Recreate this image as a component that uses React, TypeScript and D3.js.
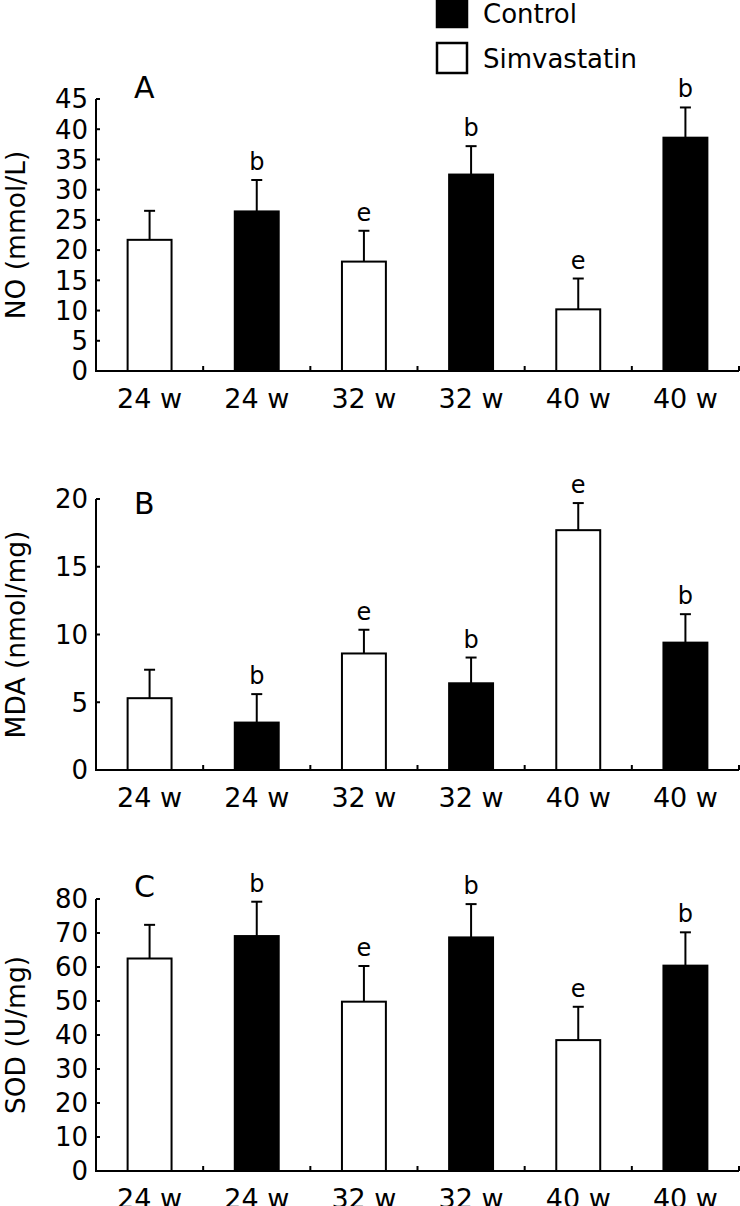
import React from "react";
import * as d3 from "d3";

const categories = ["24 w", "24 w", "32 w", "32 w", "40 w", "40 w"];
const groups = ["Simvastatin", "Control", "Simvastatin", "Control", "Simvastatin", "Control"];
const legendItems = ["Control", "Simvastatin"];

const noValues = [21.7, 26.4, 18.1, 32.5, 10.2, 38.6];
const noErrors = [4.8, 5.2, 5.1, 4.7, 5.1, 5.0];
const noLetters = ["", "b", "e", "b", "e", "b"];
const noTicks = [0, 5, 10, 15, 20, 25, 30, 35, 40, 45];

const mdaValues = [5.3, 3.5, 8.6, 6.4, 17.7, 9.4];
const mdaErrors = [2.1, 2.1, 1.75, 1.9, 2.0, 2.1];
const mdaLetters = ["", "b", "e", "b", "e", "b"];
const mdaTicks = [0, 5, 10, 15, 20];

const sodValues = [62.5, 69.1, 49.8, 68.7, 38.5, 60.4];
const sodErrors = [9.9, 10.1, 10.5, 9.8, 9.8, 9.8];
const sodLetters = ["", "b", "e", "b", "e", "b"];
const sodTicks = [0, 10, 20, 30, 40, 50, 60, 70, 80];

const FONT = "'DejaVu Sans', sans-serif";
const X0 = 96;
const X1 = 739;

type PanelProps = {
  label: string;
  labelY: number;
  title: string;
  values: number[];
  errors: number[];
  letters: string[];
  ticks: number[];
  max: number;
  top: number;
  bottom: number;
};

function Panel({ label, labelY, title, values, errors, letters, ticks, max, top, bottom }: PanelProps) {
  const x = d3
    .scaleBand<number>()
    .domain(d3.range(categories.length))
    .range([X0, X1])
    .paddingInner(0.59)
    .paddingOuter(0.295);
  const y = d3.scaleLinear().domain([0, max]).range([bottom, top]);
  const step = x.step();
  const bw = x.bandwidth();
  const capHalf = 5.5;
  return (
    <g>
      {/* bars */}
      {values.map((v, i) => {
        const bx = x(i)!;
        const isControl = groups[i] === "Control";
        return (
          <rect
            key={"bar" + i}
            x={bx}
            y={y(v)}
            width={bw}
            height={y(0) - y(v)}
            fill={isControl ? "#000" : "#fff"}
            stroke="#000"
            strokeWidth={2}
          />
        );
      })}
      {/* error bars */}
      {values.map((v, i) => {
        const cx = x(i)! + bw / 2;
        const yt = y(v + errors[i]);
        return (
          <g key={"err" + i} stroke="#000" strokeWidth={2}>
            <line x1={cx} x2={cx} y1={y(v)} y2={yt} />
            <line x1={cx - capHalf} x2={cx + capHalf} y1={yt} y2={yt} />
          </g>
        );
      })}
      {/* significance letters */}
      {values.map((v, i) =>
        letters[i] ? (
          <text
            key={"let" + i}
            x={x(i)! + bw / 2}
            y={y(v + errors[i]) - 10}
            textAnchor="middle"
            fontFamily={FONT}
            fontSize={24}
            fill="#000"
          >
            {letters[i]}
          </text>
        ) : null
      )}
      {/* y axis */}
      <line x1={X0} x2={X0} y1={y(max)} y2={y(0)} stroke="#000" strokeWidth={2} />
      {ticks.map((t) => (
        <g key={"yt" + t}>
          <line x1={X0} x2={X0 + 4} y1={y(t)} y2={y(t)} stroke="#000" strokeWidth={2} />
          <text
            x={X0 - 8}
            y={y(t)}
            dy="0.36em"
            textAnchor="end"
            fontFamily={FONT}
            fontSize={26}
            fill="#000"
          >
            {t}
          </text>
        </g>
      ))}
      {/* x axis */}
      <line x1={X0 - 1} x2={X1} y1={y(0)} y2={y(0)} stroke="#000" strokeWidth={2} />
      {categories.map((c, i) => (
        <g key={"xt" + i}>
          <line
            x1={X0 + step * (i + 1)}
            x2={X0 + step * (i + 1)}
            y1={y(0)}
            y2={y(0) - 5}
            stroke="#000"
            strokeWidth={2}
          />
          <text
            x={x(i)! + bw / 2}
            y={y(0) + 37}
            textAnchor="middle"
            fontFamily={FONT}
            fontSize={27}
            fill="#000"
          >
            {c}
          </text>
        </g>
      ))}
      {/* y title */}
      <text
        transform={`translate(16,${(y(0) + y(max)) / 2}) rotate(-90)`}
        textAnchor="middle"
        dy="0.35em"
        fontFamily={FONT}
        fontSize={26.5}
        fill="#000"
      >
        {title}
      </text>
      {/* panel label */}
      <text x={134} y={labelY} fontFamily={FONT} fontSize={30} fill="#000">
        {label}
      </text>
    </g>
  );
}

export default function App() {
  return (
    <svg
      width={740}
      height={1206}
      style={{ position: "absolute", left: 0, top: 0, display: "block", background: "#fff" }}
    >
      <rect x={0} y={0} width={740} height={1206} fill="#fff" />
      {/* legend */}
      {legendItems.map((name, i) => (
        <g key={name}>
          <rect
            x={437}
            y={-3 + i * 46}
            width={30}
            height={30}
            fill={name === "Control" ? "#000" : "#fff"}
            stroke="#000"
            strokeWidth={2.5}
          />
          <text x={483} y={23 + i * 45} fontFamily={FONT} fontSize={26} fill="#000">
            {name}
          </text>
        </g>
      ))}
      <Panel
        label="A"
        labelY={98}
        title="NO (mmol/L)"
        values={noValues}
        errors={noErrors}
        letters={noLetters}
        ticks={noTicks}
        max={45}
        top={99}
        bottom={371}
      />
      <Panel
        label="B"
        labelY={514}
        title="MDA (nmol/mg)"
        values={mdaValues}
        errors={mdaErrors}
        letters={mdaLetters}
        ticks={mdaTicks}
        max={20}
        top={499}
        bottom={770}
      />
      <Panel
        label="C"
        labelY={897}
        title="SOD (U/mg)"
        values={sodValues}
        errors={sodErrors}
        letters={sodLetters}
        ticks={sodTicks}
        max={80}
        top={899}
        bottom={1171}
      />
    </svg>
  );
}
